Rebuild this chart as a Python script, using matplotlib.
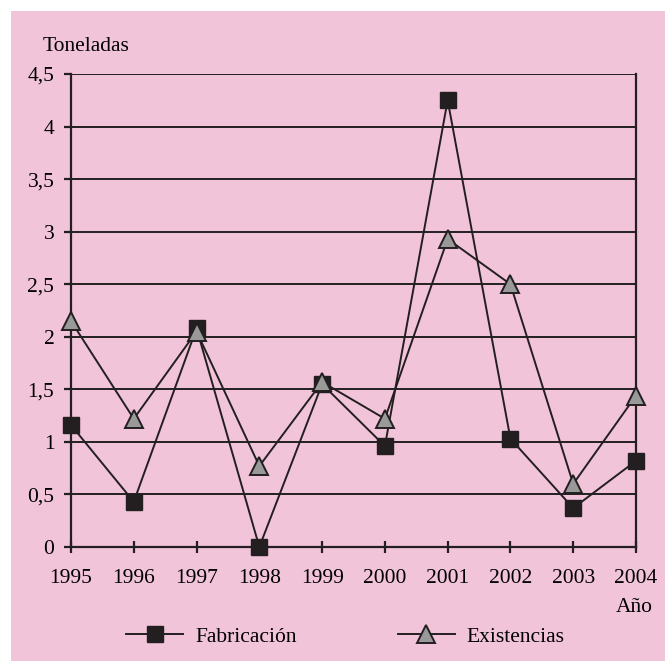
import matplotlib.pyplot as plt
from matplotlib.patches import Rectangle
from matplotlib.ticker import FuncFormatter

years = [1995, 1996, 1997, 1998, 1999, 2000, 2001, 2002, 2003, 2004]
fabricacion = [1.16, 0.43, 2.08, 0.0, 1.55, 0.96, 4.25, 1.03, 0.37, 0.82]
existencias = [2.15, 1.22, 2.05, 0.77, 1.57, 1.22, 2.93, 2.50, 0.60, 1.44]
y_ticks = [0, 0.5, 1, 1.5, 2, 2.5, 3, 3.5, 4, 4.5]

PINK = "#F2C4DA"
INK = "#231F20"

plt.rcParams['font.family'] = ['Liberation Serif', 'DejaVu Serif']
plt.rcParams['font.size'] = 15.5

fig = plt.figure(figsize=(6.65, 6.61), dpi=100, facecolor="white")
# pink panel, leaving a thin white margin at top and left
fig.patches.append(Rectangle((11 / 665, 0), 1, 650 / 661, transform=fig.transFigure,
                             facecolor=PINK, edgecolor="none", zorder=-10))

ax = fig.add_axes([71 / 665, 114 / 661, 565 / 665, 473 / 661])
ax.patch.set_visible(False)

for y in y_ticks[1:]:
    ax.axhline(y, color=INK, lw=1.4, zorder=1)

ax.plot(years, fabricacion, color=INK, lw=1.4, marker="s", markersize=12,
        markerfacecolor=INK, markeredgecolor=INK, clip_on=False, zorder=3,
        label="Fabricación")
ax.plot(years, existencias, color=INK, lw=1.4, marker="^", markersize=13,
        markerfacecolor="#999999", markeredgecolor=INK, markeredgewidth=1.4,
        clip_on=False, zorder=4, label="Existencias")

ax.set_xlim(1995, 2004)
ax.set_ylim(0, 4.5)
ax.set_xticks(years)
ax.set_yticks(y_ticks)
ax.yaxis.set_major_formatter(FuncFormatter(lambda v, p: f"{v:g}".replace(".", ",")))

ax.spines["top"].set_visible(False)
for side in ["left", "bottom", "right"]:
    ax.spines[side].set_color(INK)
    ax.spines[side].set_linewidth(1.6)

ax.tick_params(axis="x", direction="inout", length=9, width=1.6, color=INK, pad=11)
ax.tick_params(axis="y", direction="out", length=5, width=1.6, color=INK, pad=7)

ax.text(-0.05, 1.037, "Toneladas", transform=ax.transAxes, va="bottom")
ax.text(1.03, -0.108, "Año", transform=ax.transAxes, ha="right", va="top")

ax.legend(loc="center", bbox_to_anchor=(0.486, -0.19), ncol=2, frameon=False,
          handlelength=2.65, handletextpad=0.55, columnspacing=4.7)

fig.savefig("out.png", dpi=100, facecolor=fig.get_facecolor())
